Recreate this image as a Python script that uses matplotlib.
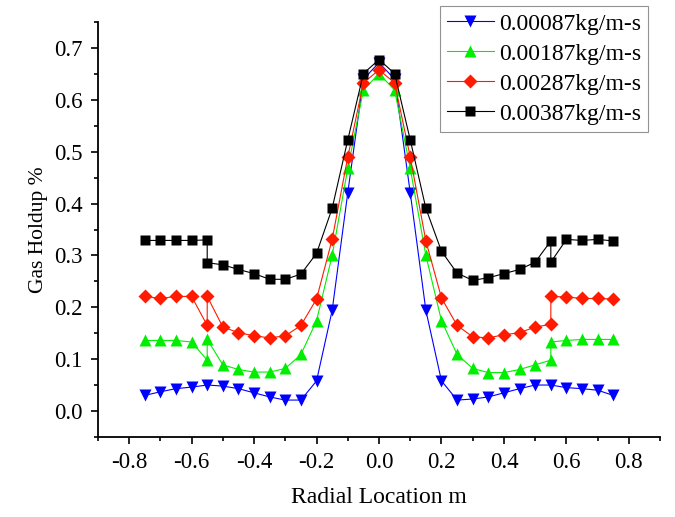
import matplotlib
matplotlib.use("Agg")
import matplotlib.pyplot as plt
from matplotlib.ticker import MultipleLocator

plt.rcParams['font.family'] = ['Liberation Serif', 'DejaVu Serif']

# radial positions (the +/-0.55 points appear twice, in the order they were exported)
x_blue = [-0.75, -0.7, -0.65, -0.6, -0.55, -0.5, -0.45, -0.4, -0.35, -0.3, -0.25, -0.2, -0.15, -0.1, -0.05,
          0.0, 0.05, 0.1, 0.15, 0.2, 0.25, 0.3, 0.35, 0.4, 0.45, 0.5, 0.55, 0.6, 0.65, 0.7, 0.75]
y_blue = [0.030, 0.037, 0.043, 0.046, 0.050, 0.048, 0.043, 0.035, 0.027, 0.021, 0.021, 0.058, 0.194, 0.421, 0.640,
          0.672, 0.640, 0.421, 0.194, 0.058, 0.021, 0.023, 0.027, 0.035, 0.043, 0.050, 0.050, 0.045, 0.043, 0.040, 0.030]

x_green = [-0.75, -0.7, -0.65, -0.6, -0.55, -0.55, -0.5, -0.45, -0.4, -0.35, -0.3, -0.25, -0.2, -0.15, -0.1, -0.05,
           0.0, 0.05, 0.1, 0.15, 0.2, 0.25, 0.3, 0.35, 0.4, 0.45, 0.5, 0.55, 0.55, 0.6, 0.65, 0.7, 0.75]
y_green = [0.136, 0.136, 0.136, 0.133, 0.098, 0.138, 0.089, 0.080, 0.075, 0.075, 0.082, 0.109, 0.174, 0.300, 0.468, 0.619,
           0.651, 0.619, 0.468, 0.300, 0.174, 0.109, 0.082, 0.074, 0.074, 0.080, 0.089, 0.098, 0.133, 0.136, 0.138, 0.138, 0.138]

x_red = [-0.75, -0.7, -0.65, -0.6, -0.55, -0.55, -0.5, -0.45, -0.4, -0.35, -0.3, -0.25, -0.2, -0.15, -0.1, -0.05,
         0.0, 0.05, 0.1, 0.15, 0.2, 0.25, 0.3, 0.35, 0.4, 0.45, 0.5, 0.55, 0.55, 0.6, 0.65, 0.7, 0.75]
y_red = [0.221, 0.217, 0.221, 0.221, 0.165, 0.221, 0.162, 0.151, 0.145, 0.141, 0.145, 0.165, 0.216, 0.331, 0.490, 0.633,
         0.658, 0.633, 0.490, 0.328, 0.218, 0.165, 0.143, 0.141, 0.147, 0.151, 0.162, 0.167, 0.221, 0.220, 0.217, 0.217, 0.216]

x_black = [-0.75, -0.7, -0.65, -0.6, -0.55, -0.55, -0.5, -0.45, -0.4, -0.35, -0.3, -0.25, -0.2, -0.15, -0.1, -0.05,
           0.0, 0.05, 0.1, 0.15, 0.2, 0.25, 0.3, 0.35, 0.4, 0.45, 0.5, 0.55, 0.55, 0.6, 0.65, 0.7, 0.75]
y_black = [0.329, 0.329, 0.329, 0.329, 0.330, 0.286, 0.282, 0.273, 0.265, 0.254, 0.254, 0.264, 0.304, 0.391, 0.523, 0.651,
           0.678, 0.651, 0.523, 0.391, 0.308, 0.266, 0.252, 0.257, 0.265, 0.273, 0.287, 0.328, 0.287, 0.331, 0.329, 0.331, 0.328]

labels = ["0.00087kg/m-s", "0.00187kg/m-s", "0.00287kg/m-s", "0.00387kg/m-s"]

fig = plt.figure(figsize=(6.75, 5.17), dpi=100)
ax = fig.add_axes([0.145, 0.155, 0.833, 0.802])

ax.plot(x_blue, y_blue, color='#0000ff', lw=0.8, marker='v', ms=8.5, mec='none', label=labels[0])
ax.plot(x_green, y_green, color='#00ee00', lw=0.8, marker='^', ms=8.5, mec='none', label=labels[1])
ax.plot(x_red, y_red, color='#ff1a00', lw=0.8, marker='D', ms=7, mec='none', label=labels[2])
ax.plot(x_black, y_black, color='black', lw=0.8, marker='s', ms=7, mec='none', label=labels[3])

ax.set_xlim(-0.9, 0.9)
ax.set_ylim(-0.05, 0.75)
ax.xaxis.set_major_locator(MultipleLocator(0.2))
ax.xaxis.set_minor_locator(MultipleLocator(0.1))
ax.yaxis.set_major_locator(MultipleLocator(0.1))
ax.yaxis.set_minor_locator(MultipleLocator(0.05))
ax.xaxis.set_major_formatter(lambda v, p: f"{v:.1f}".replace("-0.0", "0.0"))
ax.yaxis.set_major_formatter(lambda v, p: f"{v:.1f}".replace("-0.0", "0.0"))

for s in ['top', 'right']:
    ax.spines[s].set_visible(False)
for s in ['left', 'bottom']:
    ax.spines[s].set_linewidth(1.3)
ax.tick_params(which='major', direction='out', length=5, width=1.2, labelsize=16.5)
ax.tick_params(which='minor', direction='out', length=3, width=1.2)
ax.tick_params(axis='x', which='major', pad=6)
ax.tick_params(axis='y', which='major', pad=6)

ax.set_xlabel("Radial Location m", fontsize=17, labelpad=10)
ax.set_ylabel("Gas Holdup %", fontsize=15.5, labelpad=4)

leg = ax.legend(loc='upper right', bbox_to_anchor=(648 / 675, 1 - 6 / 517), bbox_transform=fig.transFigure,
                fontsize=17, frameon=True, fancybox=False, edgecolor='#777777', handlelength=2.0,
                handletextpad=0.2, borderpad=0.3, labelspacing=0.36, borderaxespad=0)
leg.get_frame().set_linewidth(0.8)

fig.savefig("out.png", dpi=100)
